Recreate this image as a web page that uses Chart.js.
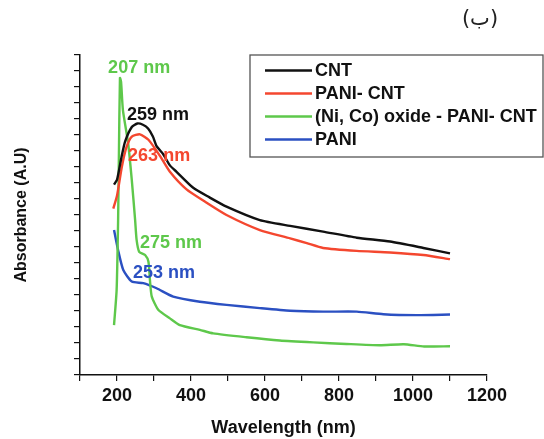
<!DOCTYPE html>
<html>
<head>
<meta charset="utf-8">
<script src="https://cdn.jsdelivr.net/npm/chart.js@4/dist/chart.umd.min.js"></script>
<style>
  html, body { margin: 0; padding: 0; background: #fff; }
  #wrap { width: 544px; height: 439px; }
</style>
</head>
<body>
<div id="wrap"><canvas id="chart" width="544" height="439"></canvas></div>
<script>
// values (wavelength in nm, absorbance in arbitrary units)
const cntWave = [192, 200, 212, 222, 240, 255, 270, 284, 297, 307, 325, 343, 361, 406, 450, 496, 586, 668, 757, 848, 938, 1028, 1100];
const cntAbs  = [5.95, 6.1, 6.8, 7.3, 7.75, 7.86, 7.82, 7.7, 7.45, 7.15, 6.9, 6.55, 6.35, 5.85, 5.55, 5.26, 4.84, 4.66, 4.48, 4.29, 4.17, 3.97, 3.8];

const paniCntWave = [190, 200, 213, 225, 240, 262, 285, 316, 343, 388, 440, 496, 586, 668, 713, 757, 848, 938, 1028, 1100];
const paniCntAbs  = [5.2, 5.6, 6.5, 7.1, 7.45, 7.52, 7.35, 6.85, 6.35, 5.8, 5.4, 5.0, 4.53, 4.27, 4.12, 3.97, 3.88, 3.83, 3.75, 3.62];

const oxideWave = [192, 199, 203, 205, 208, 211, 216, 230, 240, 249, 253, 260, 276, 285, 289, 294, 312, 343, 370, 424, 460, 550, 640, 730, 820, 910, 975, 1030, 1100];
const oxideAbs  = [1.56, 2.66, 4.84, 6.72, 9.28, 9.16, 8.28, 7.25, 6.09, 4.84, 4.22, 3.85, 3.75, 3.54, 2.97, 2.45, 2.03, 1.77, 1.56, 1.41, 1.3, 1.18, 1.08, 1.02, 0.97, 0.93, 0.96, 0.89, 0.9];

const paniWave = [192, 203, 217, 240, 271, 307, 352, 424, 496, 586, 668, 757, 848, 920, 1010, 1100];
const paniAbs  = [4.53, 3.9, 3.28, 2.92, 2.87, 2.71, 2.45, 2.29, 2.19, 2.09, 2.01, 1.98, 1.98, 1.9, 1.87, 1.89];

const seriesNames = ["CNT", "PANI- CNT", "(Ni, Co) oxide - PANI- CNT", "PANI"];
const seriesColors = ["#111111", "#f4472f", "#5ec84b", "#2b50c2"];

// peak labels: text, wavelength, absorbance where the label sits
const peakTexts = ["207 nm", "259 nm", "263 nm", "275 nm", "253 nm"];
const peakWave  = [176, 227, 230, 262, 243];
const peakAbs   = [9.6, 8.12, 6.84, 4.12, 3.19];
const peakColor = [2, 0, 1, 2, 3];

const BOLD = "'Liberation Sans', Arial, sans-serif";

function toPoints(xs, ys) {
  return xs.map((x, i) => ({ x: x, y: ys[i] }));
}

const waves = [cntWave, paniCntWave, oxideWave, paniWave];
const absorb = [cntAbs, paniCntAbs, oxideAbs, paniAbs];

const datasets = seriesNames.map((name, i) => ({
  label: name,
  data: toPoints(waves[i], absorb[i]),
  borderColor: seriesColors[i],
  borderWidth: 2.4,
  pointRadius: 0,
  fill: false,
  tension: 0.2,
}));

const extras = {
  id: "extras",
  afterDraw(chart) {
    const ctx = chart.ctx;
    const xs = chart.scales.x;
    const ys = chart.scales.y;
    ctx.save();

    // peak annotations
    ctx.font = "bold 18px " + BOLD;
    ctx.textAlign = "left";
    ctx.textBaseline = "middle";
    peakTexts.forEach((t, i) => {
      ctx.fillStyle = seriesColors[peakColor[i]];
      ctx.fillText(t, xs.getPixelForValue(peakWave[i]), ys.getPixelForValue(peakAbs[i]));
    });

    // legend box
    const bx = 250, by = 55, bw = chart.width - 1 - bx, bh = 102;
    ctx.strokeStyle = "#555";
    ctx.lineWidth = 1.3;
    ctx.strokeRect(bx, by, bw, bh);
    seriesNames.forEach((name, i) => {
      const y = 70.5 + i * 23;
      ctx.strokeStyle = seriesColors[i];
      ctx.lineWidth = 2.5;
      ctx.beginPath();
      ctx.moveTo(265, y);
      ctx.lineTo(312, y);
      ctx.stroke();
      ctx.fillStyle = "#111";
      ctx.fillText(name, 315, y + 1);
    });

    // panel letter
    ctx.font = "21px 'DejaVu Sans', sans-serif";
    ctx.textAlign = "center";
    ctx.fillStyle = "#222";
    ctx.fillText("(ب)", 480, 20);
    ctx.restore();
  },
};

new Chart(document.getElementById("chart"), {
  type: "line",
  data: { datasets: datasets },
  options: {
    responsive: false,
    animation: false,
    layout: { padding: { top: 55, right: 57, left: 0, bottom: 0 } },
    plugins: {
      legend: { display: false },
      tooltip: { enabled: false },
    },
    scales: {
      x: {
        type: "linear",
        min: 100,
        max: 1200,
        afterFit: (s) => { s.height = 64; },
        border: { display: true, color: "#111", width: 1.5 },
        grid: { drawOnChartArea: false, drawTicks: true, tickLength: 6, color: "#111", lineWidth: 1.2 },
        ticks: {
          stepSize: 100,
          padding: 4,
          color: "#111",
          font: { family: BOLD, size: 18, weight: "bold" },
          maxRotation: 0,
          autoSkip: false,
          callback: (v) => (v % 200 === 0 ? String(v) : ""),
        },
        title: {
          display: true,
          text: "Wavelength (nm)",
          color: "#111",
          font: { family: BOLD, size: 18, weight: "bold" },
          padding: { top: 0, bottom: 0 },
        },
      },
      y: {
        min: 0,
        max: 10,
        afterFit: (s) => { s.width = 80; },
        border: { display: true, color: "#111", width: 1.5 },
        grid: { drawOnChartArea: false, drawTicks: true, tickLength: 6, color: "#111", lineWidth: 1.2 },
        ticks: { stepSize: 0.5, display: false },
        title: {
          display: true,
          text: "Absorbance (A.U)",
          color: "#111",
          font: { family: BOLD, size: 16, weight: "bold" },
          padding: { top: 12, bottom: 0 },
        },
      },
    },
  },
  plugins: [extras],
});
</script>
</body>
</html>
